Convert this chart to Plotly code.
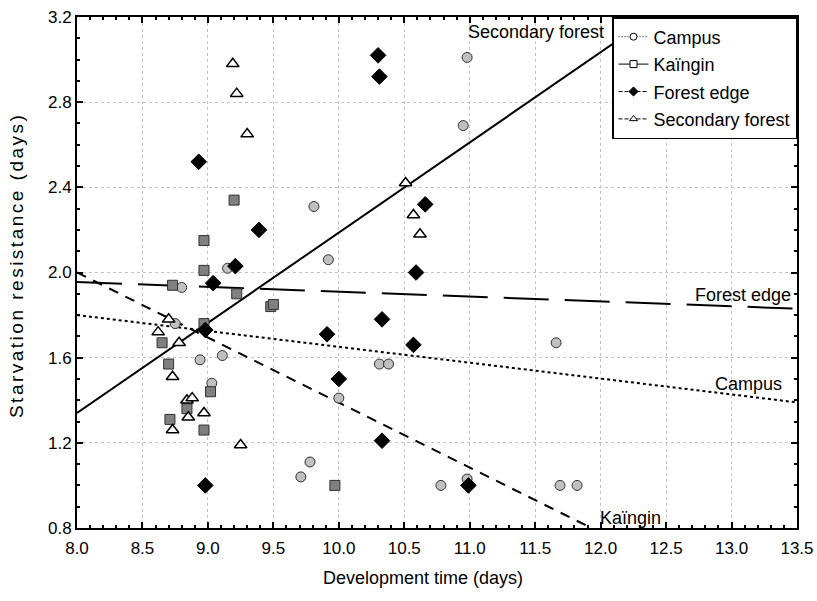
import plotly.graph_objects as go

# ---- data ----
campus_x = [9.81, 9.92, 9.15, 8.80, 8.75, 8.94, 9.11, 9.03, 9.78, 9.71, 10.00, 10.31, 10.38,
            11.66, 10.78, 10.98, 11.69, 11.82, 10.98, 10.95]
campus_y = [2.31, 2.06, 2.02, 1.93, 1.76, 1.59, 1.61, 1.48, 1.11, 1.04, 1.41, 1.57, 1.57,
            1.67, 1.00, 1.03, 1.00, 1.00, 3.01, 2.69]

kaingin_x = [9.20, 8.97, 8.97, 8.73, 9.22, 9.48, 9.50, 8.97, 8.65, 8.70, 9.02, 8.84, 8.71, 8.97, 9.97]
kaingin_y = [2.34, 2.15, 2.01, 1.94, 1.90, 1.84, 1.85, 1.76, 1.67, 1.57, 1.44, 1.36, 1.31, 1.26, 1.00]

edge_x = [8.93, 9.39, 9.21, 9.04, 8.98, 9.91, 8.98, 10.00, 10.30, 10.31, 10.66, 10.59, 10.33,
          10.57, 10.33, 10.99]
edge_y = [2.52, 2.20, 2.03, 1.95, 1.73, 1.71, 1.00, 1.50, 3.02, 2.92, 2.32, 2.00, 1.78,
          1.66, 1.21, 1.00]

secondary_x = [9.19, 9.22, 9.30, 10.51, 10.57, 10.62, 8.70, 8.62, 8.78, 8.73, 8.84, 8.88,
               8.85, 8.97, 8.73, 9.25]
secondary_y = [2.98, 2.84, 2.65, 2.42, 2.27, 2.18, 1.78, 1.72, 1.67, 1.51, 1.40, 1.41,
               1.32, 1.34, 1.26, 1.19]

# regression lines: values at x = 8.0 and x = 13.5
fit_x = [8.0, 13.5]
campus_fit = [1.80, 1.39]
kaingin_fit = [2.00, 0.32]
edge_fit = [1.955, 1.83]
secondary_fit = [1.34, 3.67]

x_ticks = [8.0, 8.5, 9.0, 9.5, 10.0, 10.5, 11.0, 11.5, 12.0, 12.5, 13.0, 13.5]
y_ticks = [0.8, 1.2, 1.6, 2.0, 2.4, 2.8, 3.2]

font = "Liberation Sans, Arial, sans-serif"

fig = go.Figure()

# regression lines
fig.add_trace(go.Scatter(x=fit_x, y=campus_fit, mode="lines", showlegend=False,
                         line=dict(color="black", width=2, dash="3px,3px")))
fig.add_trace(go.Scatter(x=fit_x, y=kaingin_fit, mode="lines", showlegend=False,
                         line=dict(color="black", width=2, dash="10px,8px")))
fig.add_trace(go.Scatter(x=fit_x, y=edge_fit, mode="lines", showlegend=False,
                         line=dict(color="black", width=2, dash="45px,16px")))
fig.add_trace(go.Scatter(x=fit_x, y=secondary_fit, mode="lines", showlegend=False,
                         line=dict(color="black", width=2)))

# markers
fig.add_trace(go.Scatter(x=campus_x, y=campus_y, mode="markers", showlegend=False,
                         marker=dict(symbol="circle", size=10, color="#c0c0c0",
                                     line=dict(color="#303030", width=1))))
fig.add_trace(go.Scatter(x=kaingin_x, y=kaingin_y, mode="markers", showlegend=False,
                         marker=dict(symbol="square", size=10, color="#808080",
                                     line=dict(color="#303030", width=1))))
fig.add_trace(go.Scatter(x=edge_x, y=edge_y, mode="markers", showlegend=False,
                         marker=dict(symbol="diamond", size=12, color="black",
                                     line=dict(color="black", width=1))))
fig.add_trace(go.Scatter(x=secondary_x, y=secondary_y, mode="markers", showlegend=False,
                         marker=dict(symbol="triangle-up", size=11, color="white",
                                     line=dict(color="black", width=1.5))))

# legend entries
legend_items = [
    ("Campus", "circle", "white", "1px,2px"),
    ("Kaïngin", "square", "white", "solid"),
    ("Forest edge", "diamond", "black", "4px,2px"),
    ("Secondary forest", "triangle-up", "white", "4px,2px"),
]
for i, (name, sym, col, dash) in enumerate(legend_items):
    fig.add_trace(go.Scatter(x=[None], y=[None], mode="lines+markers", name=name,
                             legendgroup=f"g{i}",
                             line=dict(color="black", width=1, dash=dash),
                             marker=dict(symbol=sym, size=7, color=col,
                                         line=dict(color="black", width=1))))

# line labels
labels = [("Secondary forest", 11.51, 3.13), ("Forest edge", 13.09, 1.895),
          ("Campus", 13.13, 1.476), ("Kaïngin", 12.23, 0.847)]
for txt, lx, ly in labels:
    fig.add_annotation(x=lx, y=ly, text=txt, showarrow=False,
                       font=dict(family=font, size=18, color="black"))

# axis titles
fig.add_annotation(xref="paper", yref="paper", x=0.4806, y=-0.098, xanchor="center", yanchor="middle",
                   text="Development time (days)",
                   showarrow=False, font=dict(family=font, size=18, color="black"))
fig.add_annotation(xref="paper", yref="paper", x=-0.083, y=0.515, xanchor="center", yanchor="middle",
                   text='<span style="letter-spacing:2.5px">Starvation resistance (days)</span>',
                   textangle=-90, showarrow=False, font=dict(family=font, size=19, color="black"))

axis_common = dict(
    showline=True, linecolor="black", linewidth=2, mirror="ticks",
    ticks="inside", ticklen=6, tickwidth=1.5, tickcolor="black",
    showgrid=True, gridcolor="#c4c4c4", griddash="dot", gridwidth=1,
    zeroline=False, tickfont=dict(family=font, size=17, color="black"),
    tickformat=".1f", automargin=False, ticklabeloverflow="allow",
)

fig.update_xaxes(range=[8.0, 13.5], tickvals=x_ticks, ticklabelstandoff=4,
                 minor=dict(dtick=0.1, ticks="inside", ticklen=3, tickcolor="black", showgrid=False),
                 **axis_common)
fig.update_yaxes(range=[0.8, 3.2], tickvals=y_ticks,
                 minor=dict(dtick=0.1, ticks="inside", ticklen=3, tickcolor="black", showgrid=False),
                 **axis_common)

fig.update_layout(
    width=817, height=601,
    margin=dict(l=77, r=20, t=17, b=73),
    paper_bgcolor="white", plot_bgcolor="white",
    font=dict(family=font, color="black"),
    legend=dict(x=1, y=1, xanchor="right", yanchor="top",
                bgcolor="white", bordercolor="black", borderwidth=1.5,
                font=dict(family=font, size=18, color="black"),
                tracegroupgap=1, traceorder="grouped"),
)

# remove the browser's default page margin so the figure sits at the window's corner
fig.write_html("out.html", config={"displayModeBar": False},
               post_script="document.body.style.margin='0';document.body.style.padding='0';")
